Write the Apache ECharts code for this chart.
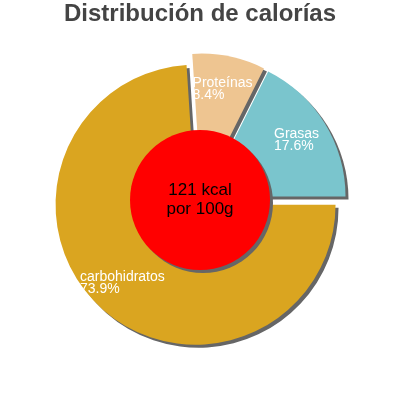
<!DOCTYPE html>
<html>
<head>
<meta charset="utf-8">
<script src="https://cdn.jsdelivr.net/npm/echarts@6/dist/echarts.min.js"></script>
<style>
html,body{margin:0;padding:0;background:#fff;}
#chart{width:400px;height:400px;}
</style>
</head>
<body>
<div id="chart"></div>
<script>
// drawn counterclockwise from 3 o'clock, same order as the picture
var names = ['Grasas', 'Proteínas', 'carbohidratos'];
var values = [17.6, 8.4, 73.9];
var colors = ['#7AC5CD', '#EEC591', '#DAA520'];
var centerText = ['121 kcal', 'por 100g'];

var slices = [];
var labels = [];
for (var i = 0; i < names.length; i++) {
    slices.push({
        name: names[i],
        value: values[i],
        selected: true,
        itemStyle: {color: colors[i]}
    });
    labels.push({
        name: names[i],
        value: values[i],
        selected: true
    });
}

var shadow = {
    shadowColor: '#666',
    shadowBlur: 0,
    shadowOffsetX: 3,
    shadowOffsetY: 3
};

var option = {
    animation: false,
    title: {
        text: 'Distribución de calorías',
        left: 'center',
        top: 2,
        padding: 0,
        textStyle: {
            fontFamily: 'Liberation Sans, Arial, sans-serif',
            fontSize: 24,
            fontWeight: 'bold',
            color: '#444'
        }
    },
    series: [
        {
            type: 'pie',
            z: 2,
            center: [200, 200],
            radius: [0, 140],
            startAngle: 0,
            clockwise: false,
            selectedMode: 'multiple',
            selectedOffset: 6.5,
            silent: true,
            label: {show: false},
            labelLine: {show: false},
            itemStyle: shadow,
            data: slices
        },
        {
            // transparent ring, only carries the labels
            type: 'pie',
            z: 3,
            center: [200, 200],
            radius: [68, 140],
            startAngle: 0,
            clockwise: false,
            selectedMode: 'multiple',
            selectedOffset: 6.5,
            silent: true,
            itemStyle: {color: 'rgba(0,0,0,0)'},
            label: {
                show: true,
                position: 'inside',
                formatter: function (p) {
                    return '{a|' + p.name + '}\n{a|' + p.value + '%}';
                },
                rich: {
                    a: {
                        fontFamily: 'Liberation Sans, Arial, sans-serif',
                        fontSize: 14,
                        lineHeight: 12,
                        color: '#fff',
                        align: 'left'
                    }
                }
            },
            labelLine: {show: false},
            data: labels
        },
        {
            type: 'pie',
            z: 6,
            center: [200, 200],
            radius: [0, 70],
            silent: true,
            itemStyle: {
                color: '#FF0000',
                shadowColor: '#666',
                shadowBlur: 0,
                shadowOffsetX: 3,
                shadowOffsetY: 3
            },
            label: {
                show: true,
                position: 'center',
                formatter: centerText.join('\n'),
                fontFamily: 'Liberation Sans, Arial, sans-serif',
                fontSize: 17,
                lineHeight: 19,
                color: '#000'
            },
            labelLine: {show: false},
            data: [{name: 'kcal', value: 121}]
        }
    ]
};

var myChart = echarts.init(document.getElementById('chart'));
myChart.setOption(option);
</script>
</body>
</html>
